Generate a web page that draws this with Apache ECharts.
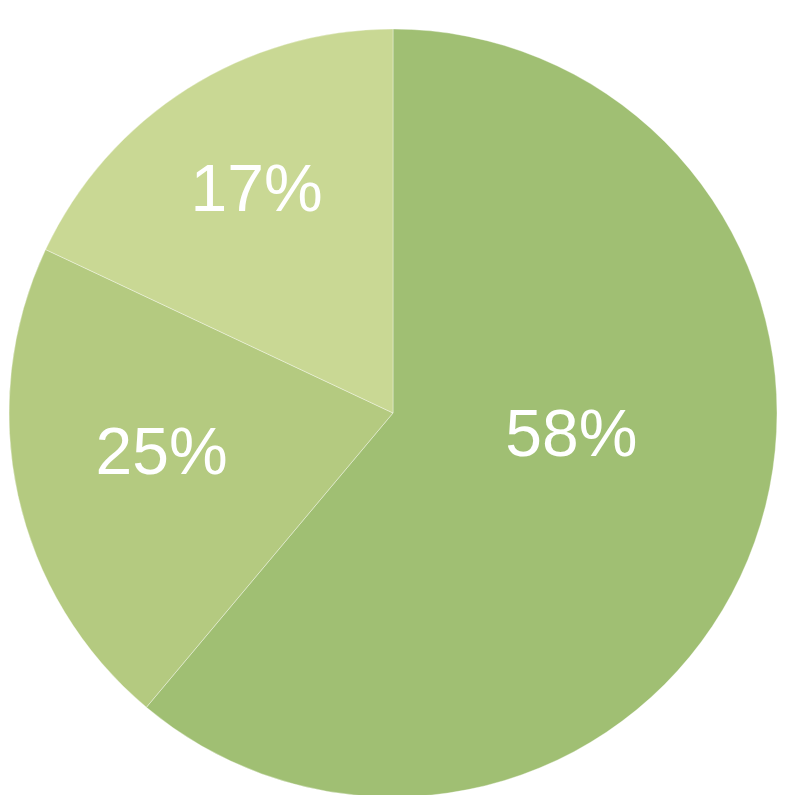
<!DOCTYPE html>
<html>
<head>
<meta charset="utf-8">
<script src="https://cdn.jsdelivr.net/npm/echarts@6/dist/echarts.min.js"></script>
<style>html,body{margin:0;padding:0;background:#fff}#c{width:795px;height:795px}</style>
</head>
<body>
<div id="c"></div>
<script>
// Slice sizes as drawn (angles)
const sliceNames = ['A', 'B', 'C'];
const sliceValues = [61.1, 20.9, 18.0];
// Label texts as printed on the slices
const sliceLabels = ['58%', '25%', '17%'];
const sliceColors = ['#A0BF73', '#B4CA80', '#C9D894'];
const labelShift = [[-5, -42], [-41, 1], [-32, -56]];

const chart = echarts.init(document.getElementById('c'));
chart.setOption({
  animation: false,
  series: [{
    type: 'pie',
    center: [393, 413],
    radius: [0, 384],
    startAngle: 90,
    clockwise: true,
    avoidLabelOverlap: false,
    label: {
      show: true,
      position: 'inside',
      color: '#ffffff',
      fontFamily: 'Liberation Sans, Arial, sans-serif',
      fontSize: 66,
      formatter: p => sliceLabels[p.dataIndex]
    },
    labelLine: { show: false },
    labelLayout: p => ({ dx: labelShift[p.dataIndex][0], dy: labelShift[p.dataIndex][1] }),
    itemStyle: { borderColor: 'rgba(255,255,255,0.35)', borderWidth: 1 },
    emphasis: { disabled: true },
    data: sliceValues.map((v, i) => ({ name: sliceNames[i], value: v, itemStyle: { color: sliceColors[i] } }))
  }]
});
</script>
</body>
</html>
